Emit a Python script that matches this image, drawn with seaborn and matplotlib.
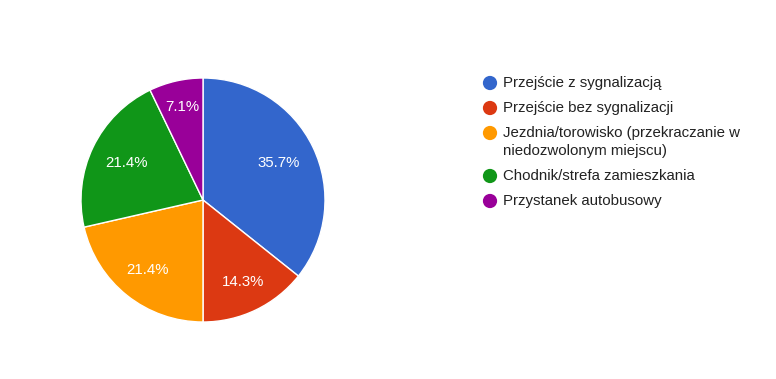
import numpy as np
import seaborn as sns
import matplotlib.pyplot as plt

categories = [
    "Przejście z sygnalizacją",
    "Przejście bez sygnalizacji",
    "Jezdnia/torowisko (przekraczanie w\nniedozwolonym miejscu)",
    "Chodnik/strefa zamieszkania",
    "Przystanek autobusowy",
]
counts = [5, 2, 3, 3, 1]
colors = ["#3366cc", "#dc3912", "#ff9900", "#109618", "#990099"]
# how far from the centre each percentage label sits (fraction of radius)
label_dist = [0.69, 0.75, 0.73, 0.70, 0.78]

sns.set_theme(style="white")
plt.rcParams["font.family"] = ["Liberation Sans", "DejaVu Sans"]
palette = sns.color_palette(colors)

W, H = 776, 379
fig = plt.figure(figsize=(W / 100, H / 100), dpi=100)
fig.patch.set_facecolor("white")

# pie centre ~ (203, 200) px from top-left, radius ~122 px
cx, cy, r = 203, 200, 122
ax = fig.add_axes([(cx - r) / W, (H - cy - r) / H, 2 * r / W, 2 * r / H])
wedges, texts, autotexts = ax.pie(
    counts,
    colors=palette,
    startangle=90,
    counterclock=False,
    autopct="%.1f%%",
    pctdistance=0.68,
    wedgeprops=dict(edgecolor="white", linewidth=1),
    textprops=dict(color="white", fontsize=10.8),
)
for w, t, d in zip(wedges, autotexts, label_dist):
    mid = np.deg2rad((w.theta1 + w.theta2) / 2)
    t.set_position((d * np.cos(mid), d * np.sin(mid)))
ax.set_xlim(-1, 1)
ax.set_ylim(-1, 1)
ax.set_aspect("equal")
ax.axis("off")

# legend drawn in pixel coordinates, marker aligned with first line
lax = fig.add_axes([0, 0, 1, 1], zorder=-1)
lax.set_xlim(0, W)
lax.set_ylim(H, 0)
lax.axis("off")
y = 83
for label, c in zip(categories, palette):
    lax.scatter([490], [y], s=105, color=c, edgecolors="none")
    lines = label.split("\n")
    for i, line in enumerate(lines):
        lax.text(503, y + i * 18, line, va="center", ha="left",
                 fontsize=10.8, color="#222222")
    y += 25 + 18 * (len(lines) - 1)

fig.savefig("out.png", dpi=100)
